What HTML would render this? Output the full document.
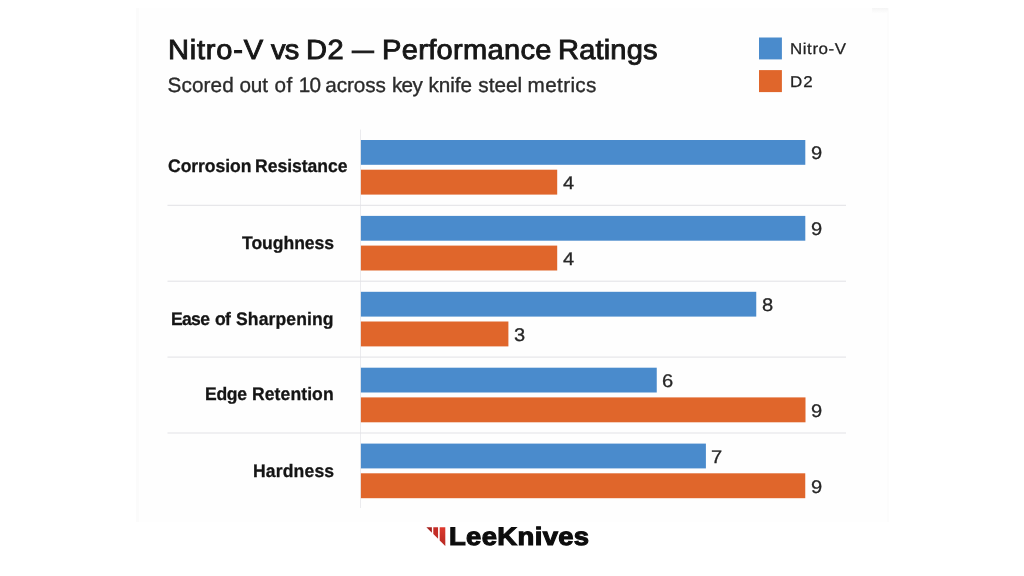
<!DOCTYPE html>
<html lang="en">
<head>
<meta charset="utf-8">
<title>Nitro-V vs D2 — Performance Ratings</title>
<style>
  html, body { margin: 0; padding: 0; }
  body {
    width: 1024px; height: 576px; overflow: hidden; position: relative;
    background: #ffffff;
    font-family: "Liberation Sans", sans-serif;
    text-rendering: geometricPrecision;
  }
  .panel { position: absolute; left: 136px; top: 8px; width: 753px; height: 514px; box-sizing: border-box; background: #fefefe; border-left: 3px solid #fbfbfb; border-right: 2px solid #fcfcfc; }
  .panel::after { content: ""; position: absolute; right: -1px; top: 0; width: 16px; height: 5px; background: linear-gradient(to bottom, #f5f5f5, #fdfdfd); }
  svg.chart { position: absolute; left: 0; top: 0; width: 1024px; height: 576px; }
  .ln { position: absolute; left: 0; width: 1024px; height: 0; line-height: 1; white-space: nowrap; }
  .ln span { position: absolute; top: 0; display: block; white-space: pre; }
</style>
</head>
<body>
<div class="panel"></div>
<svg class="chart" viewBox="0 0 1024 576">
<rect x="759" y="37.5" width="22.9" height="21.9" fill="#4a8bcc"/>
<rect x="759" y="70.1" width="22.9" height="22" fill="#e0662b"/>
<rect x="360" y="129.6" width="1" height="378.4" fill="#ebebee"/>
<rect x="360.9" y="140.00" width="444.40" height="24.8" fill="#4a8bcc"/>
<rect x="360.9" y="169.70" width="196.30" height="24.9" fill="#e0662b"/>
<rect x="167.5" y="204.80" width="678.5" height="1" fill="#e2e2e5"/>
<rect x="360.9" y="215.90" width="444.40" height="24.8" fill="#4a8bcc"/>
<rect x="360.9" y="245.60" width="196.30" height="24.9" fill="#e0662b"/>
<rect x="167.5" y="280.70" width="678.5" height="1" fill="#e2e2e5"/>
<rect x="360.9" y="291.80" width="395.35" height="24.8" fill="#4a8bcc"/>
<rect x="360.9" y="321.50" width="147.50" height="24.9" fill="#e0662b"/>
<rect x="167.5" y="356.60" width="678.5" height="1" fill="#e2e2e5"/>
<rect x="360.9" y="367.70" width="295.85" height="24.8" fill="#4a8bcc"/>
<rect x="360.9" y="397.40" width="444.60" height="24.9" fill="#e0662b"/>
<rect x="167.5" y="432.50" width="678.5" height="1" fill="#e2e2e5"/>
<rect x="360.9" y="443.60" width="345.00" height="24.8" fill="#4a8bcc"/>
<rect x="360.9" y="473.30" width="444.35" height="24.9" fill="#e0662b"/>
<defs><linearGradient id="rg" x1="0" y1="0" x2="0" y2="1"><stop offset="0" stop-color="#de3a2e"/><stop offset="1" stop-color="#b52822"/></linearGradient></defs>
<polygon points="426.4,527.2 431.9,527.2 431.9,532.7" fill="#a8231f"/>
<polygon points="433.3,527.2 438.05,527.2 438.05,538.85 433.3,534.1" fill="#c42d27"/>
<polygon points="439.7,527.2 445.3,527.2 445.3,546.1 439.7,540.5" fill="url(#rg)"/>
</svg>
<header class="head">
  <div id="title" class="ln" style="top:35.6px;font-size:27.7px;color:#171717;-webkit-text-stroke:0.9px #171717;"><span style="left:167.93px;letter-spacing:0.74px;transform-origin:0 0;transform:scaleX(1.05);">Nitro-V </span><span style="left:270.89px;letter-spacing:-0.7px;transform-origin:0 0;transform:scaleX(1.05);">vs </span><span style="left:305.92px;letter-spacing:0.46px;transform-origin:0 0;transform:scaleX(1.05);">D2 </span><span style="left:351.6px;transform-origin:0 0;transform:scaleX(0.791);">— </span><span style="left:381.98px;letter-spacing:0.29px;transform-origin:0 0;transform:scaleX(1.05);">Performance </span><span style="left:557.97px;letter-spacing:0.16px;transform-origin:0 0;transform:scaleX(1.05);">Ratings</span></div>
  <div id="sub" class="ln" style="top:76.4px;font-size:20.7px;color:#2b2b2b;-webkit-text-stroke:0.35px #2b2b2b;"><span style="left:167.61px;letter-spacing:0.11px;">Scored </span><span style="left:239.51px;letter-spacing:-0.17px;">out </span><span style="left:274.58px;letter-spacing:0.39px;">of </span><span style="left:298.67px;letter-spacing:-0.7px;">10 </span><span style="left:325.27px;letter-spacing:-0.08px;">across </span><span style="left:391.98px;letter-spacing:-0.7px;">key </span><span style="left:428.52px;letter-spacing:-0.07px;">knife </span><span style="left:478.33px;letter-spacing:0.03px;">steel </span><span style="left:527.59px;letter-spacing:0.36px;">metrics</span></div>
</header>
<div class="legend">
  <div id="leg1" class="ln" style="top:42.4px;font-size:15.7px;color:#222;-webkit-text-stroke:0.25px #222;"><span style="left:790.35px;letter-spacing:0.52px;transform-origin:0 0;transform:scaleX(1.08);">Nitro-V</span></div>
  <div id="leg2" class="ln" style="top:74.9px;font-size:15.7px;color:#222;-webkit-text-stroke:0.25px #222;"><span style="left:790.28px;letter-spacing:1.02px;transform-origin:0 0;transform:scaleX(1.08);">D2</span></div>
</div>
<div class="row">
  <div id="l1" class="ln" style="top:157.4px;font-size:18.1px;font-weight:bold;color:#151515;-webkit-text-stroke:0.3px #151515;"><span style="left:167.63px;letter-spacing:-0.05px;transform-origin:0 0;transform:scaleX(0.97);">Corrosion </span><span style="left:254.65px;letter-spacing:-0.01px;transform-origin:0 0;transform:scaleX(0.97);">Resistance</span></div>
  <div id="v0" class="ln" style="top:144.2px;font-size:18.3px;color:#262626;-webkit-text-stroke:0.3px #262626;"><span style="left:811.07px;transform-origin:0 0;transform:scaleX(1.1);">9</span></div>
  <div id="v1" class="ln" style="top:174.0px;font-size:18.3px;color:#262626;-webkit-text-stroke:0.3px #262626;"><span style="left:563.24px;transform-origin:0 0;transform:scaleX(1.1);">4</span></div>
</div>
<div class="row">
  <div id="l2" class="ln" style="top:233.8px;font-size:18.1px;font-weight:bold;color:#151515;-webkit-text-stroke:0.3px #151515;"><span style="left:241.81px;letter-spacing:-0.03px;transform-origin:0 0;transform:scaleX(0.97);">Toughness</span></div>
  <div id="v2" class="ln" style="top:220.1px;font-size:18.3px;color:#262626;-webkit-text-stroke:0.3px #262626;"><span style="left:811.07px;transform-origin:0 0;transform:scaleX(1.1);">9</span></div>
  <div id="v3" class="ln" style="top:249.9px;font-size:18.3px;color:#262626;-webkit-text-stroke:0.3px #262626;"><span style="left:563.24px;transform-origin:0 0;transform:scaleX(1.1);">4</span></div>
</div>
<div class="row">
  <div id="l3" class="ln" style="top:309.5px;font-size:18.1px;font-weight:bold;color:#151515;-webkit-text-stroke:0.3px #151515;"><span style="left:170.86px;letter-spacing:-0.7px;transform-origin:0 0;transform:scaleX(0.97);">Ease </span><span style="left:215.03px;letter-spacing:-0.7px;transform-origin:0 0;transform:scaleX(0.97);">of </span><span style="left:236.47px;letter-spacing:0.11px;transform-origin:0 0;transform:scaleX(0.97);">Sharpening</span></div>
  <div id="v4" class="ln" style="top:296.0px;font-size:18.3px;color:#262626;-webkit-text-stroke:0.3px #262626;"><span style="left:761.65px;transform-origin:0 0;transform:scaleX(1.1);">8</span></div>
  <div id="v5" class="ln" style="top:325.8px;font-size:18.3px;color:#262626;-webkit-text-stroke:0.3px #262626;"><span style="left:514.04px;transform-origin:0 0;transform:scaleX(1.1);">3</span></div>
</div>
<div class="row">
  <div id="l4" class="ln" style="top:385.3px;font-size:18.1px;font-weight:bold;color:#151515;-webkit-text-stroke:0.3px #151515;"><span style="left:205.41px;letter-spacing:-0.33px;transform-origin:0 0;transform:scaleX(0.97);">Edge </span><span style="left:252.21px;letter-spacing:0.09px;transform-origin:0 0;transform:scaleX(0.97);">Retention</span></div>
  <div id="v6" class="ln" style="top:371.8px;font-size:18.3px;color:#262626;-webkit-text-stroke:0.3px #262626;"><span style="left:661.98px;transform-origin:0 0;transform:scaleX(1.1);">6</span></div>
  <div id="v7" class="ln" style="top:401.8px;font-size:18.3px;color:#262626;-webkit-text-stroke:0.3px #262626;"><span style="left:811.02px;transform-origin:0 0;transform:scaleX(1.1);">9</span></div>
</div>
<div class="row">
  <div id="l5" class="ln" style="top:461.8px;font-size:18.1px;font-weight:bold;color:#151515;-webkit-text-stroke:0.3px #151515;"><span style="left:252.71px;letter-spacing:0.16px;transform-origin:0 0;transform:scaleX(0.97);">Hardness</span></div>
  <div id="v8" class="ln" style="top:447.9px;font-size:18.3px;color:#262626;-webkit-text-stroke:0.3px #262626;"><span style="left:711.07px;transform-origin:0 0;transform:scaleX(1.1);">7</span></div>
  <div id="v9" class="ln" style="top:477.8px;font-size:18.3px;color:#262626;-webkit-text-stroke:0.3px #262626;"><span style="left:811.17px;transform-origin:0 0;transform:scaleX(1.1);">9</span></div>
</div>
<footer class="brand">
  <div id="logo" class="ln" style="top:525.0px;font-size:25.2px;font-weight:bold;color:#0d0d0d;-webkit-text-stroke:1.1px #0d0d0d;"><span style="left:449.0px;letter-spacing:0.32px;transform-origin:0 0;transform:scaleX(1.09);">LeeKnives</span></div>
</footer>
</body>
</html>
